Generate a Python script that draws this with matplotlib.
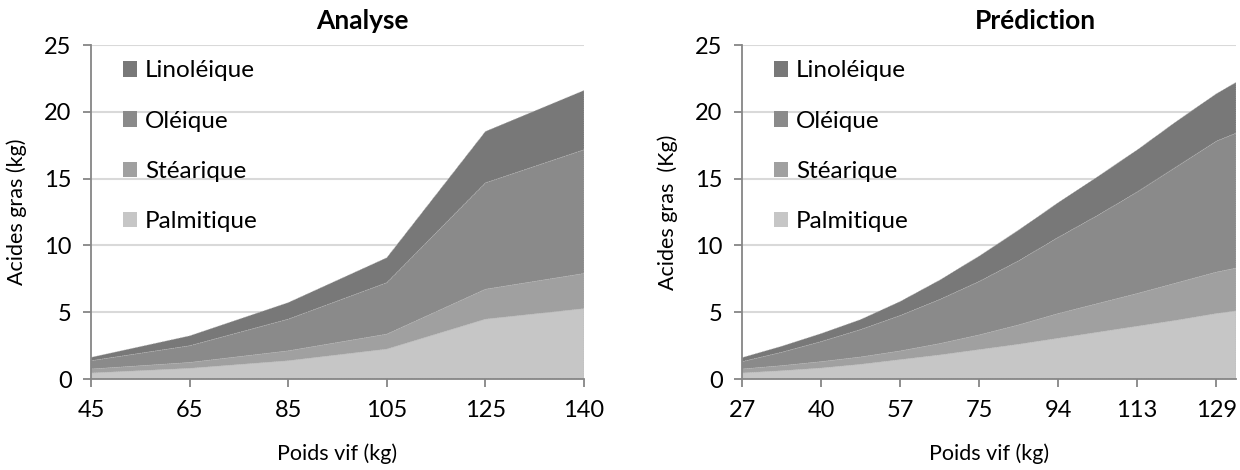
import matplotlib
matplotlib.use("Agg")
import matplotlib.pyplot as plt
from matplotlib.patches import Patch

plt.rcParams["font.family"] = ["Lato", "DejaVu Sans"]

# Series names (bottom to top of the stack) and colours
acids = ["Palmitique", "Stéarique", "Oléique", "Linoléique"]
acid_colors = ["#c6c6c6", "#a0a0a0", "#8a8a8a", "#787878"]

# Analyse: measured fatty acids per live weight class
analyse_poids = ["45", "65", "85", "105", "125", "140"]
analyse_palmitique = [0.45, 0.80, 1.37, 2.24, 4.48, 5.27]
analyse_stearique = [0.30, 0.44, 0.74, 1.12, 2.24, 2.63]
analyse_oleique = [0.62, 1.25, 2.37, 3.85, 7.96, 9.26]
analyse_linoleique = [0.25, 0.74, 1.24, 1.87, 3.85, 4.44]

# Prédiction: row number of the prediction table and the values read at it
pred_row = [0, 2, 4, 6, 8, 10, 12, 14, 16, 18, 20, 22, 24, 25]
pred_palmitique = [0.45, 0.62, 0.82, 1.10, 1.45, 1.80, 2.20, 2.60, 3.05, 3.50, 3.95, 4.40, 4.90, 5.10]
pred_stearique = [0.30, 0.38, 0.48, 0.55, 0.65, 0.85, 1.10, 1.45, 1.85, 2.15, 2.45, 2.80, 3.10, 3.20]
pred_oleique = [0.55, 1.00, 1.50, 2.05, 2.65, 3.30, 4.00, 4.80, 5.70, 6.60, 7.60, 8.70, 9.80, 10.10]
pred_linoleique = [0.30, 0.45, 0.60, 0.75, 1.05, 1.45, 1.90, 2.30, 2.60, 2.90, 3.15, 3.40, 3.55, 3.80]
pred_tick_rows = [0, 4, 8, 12, 16, 20, 24]
pred_tick_labels = ["27", "40", "57", "75", "94", "113", "129"]

AXIS_GREY = "#868686"


def style_axes(ax, ylabel):
    ax.set_ylim(0, 25)
    ax.set_yticks([0, 5, 10, 15, 20, 25])
    ax.yaxis.grid(True, color="#d9d9d9", linewidth=1.5)
    ax.set_axisbelow(True)
    for side in ("top", "right"):
        ax.spines[side].set_visible(False)
    for side in ("left", "bottom"):
        ax.spines[side].set_color(AXIS_GREY)
        ax.spines[side].set_linewidth(1.3)
        ax.spines[side].set_zorder(5)
    ax.tick_params(axis="both", colors=AXIS_GREY, length=6, width=1.3,
                   labelsize=17, labelcolor="black", pad=9)
    ax.tick_params(axis="y", pad=8)
    ax.set_xlabel("Poids vif (kg)", fontsize=15.5, labelpad=16)
    ax.set_ylabel(ylabel, fontsize=15.5, labelpad=12)

    handles = [Patch(facecolor=c, edgecolor="none") for c in acid_colors[::-1]]
    ax.legend(handles, acids[::-1], loc="upper left", bbox_to_anchor=(0.04, 0.99),
              frameon=False, fontsize=17.5, handlelength=0.6, handleheight=0.6,
              handletextpad=0.3, labelspacing=1.2, borderpad=0)


fig = plt.figure(figsize=(12.4, 4.7), dpi=100)

# Left panel: Analyse
ax1 = fig.add_axes([91 / 1240, 1 - 379 / 470, 493 / 1240, 334 / 470])
x1 = list(range(len(analyse_poids)))
ax1.stackplot(x1, analyse_palmitique, analyse_stearique, analyse_oleique,
              analyse_linoleique, colors=acid_colors, edgecolor="#b8b8b8",
              linewidth=0.5, linestyle=":")
ax1.set_xlim(0, len(analyse_poids) - 1)
ax1.set_xticks(x1)
ax1.set_xticklabels(analyse_poids)
style_axes(ax1, "Acides gras (kg)")
ax1.text(0.55, 1.035, "Analyse", transform=ax1.transAxes, ha="center",
         va="bottom", fontsize=19, fontweight="bold")

# Right panel: Prédiction
ax2 = fig.add_axes([742 / 1240, 1 - 379 / 470, 494 / 1240, 334 / 470])
ax2.stackplot(pred_row, pred_palmitique, pred_stearique, pred_oleique,
              pred_linoleique, colors=acid_colors, edgecolor="#b8b8b8",
              linewidth=0.5, linestyle=":")
ax2.set_xlim(pred_row[0], pred_row[-1])
ax2.set_xticks(pred_tick_rows)
ax2.set_xticklabels(pred_tick_labels)
style_axes(ax2, "Acides gras  (Kg)")
ax2.text(0.595, 1.035, "Prédiction", transform=ax2.transAxes, ha="center",
         va="bottom", fontsize=19, fontweight="bold")

fig.savefig("out.png", dpi=100)
